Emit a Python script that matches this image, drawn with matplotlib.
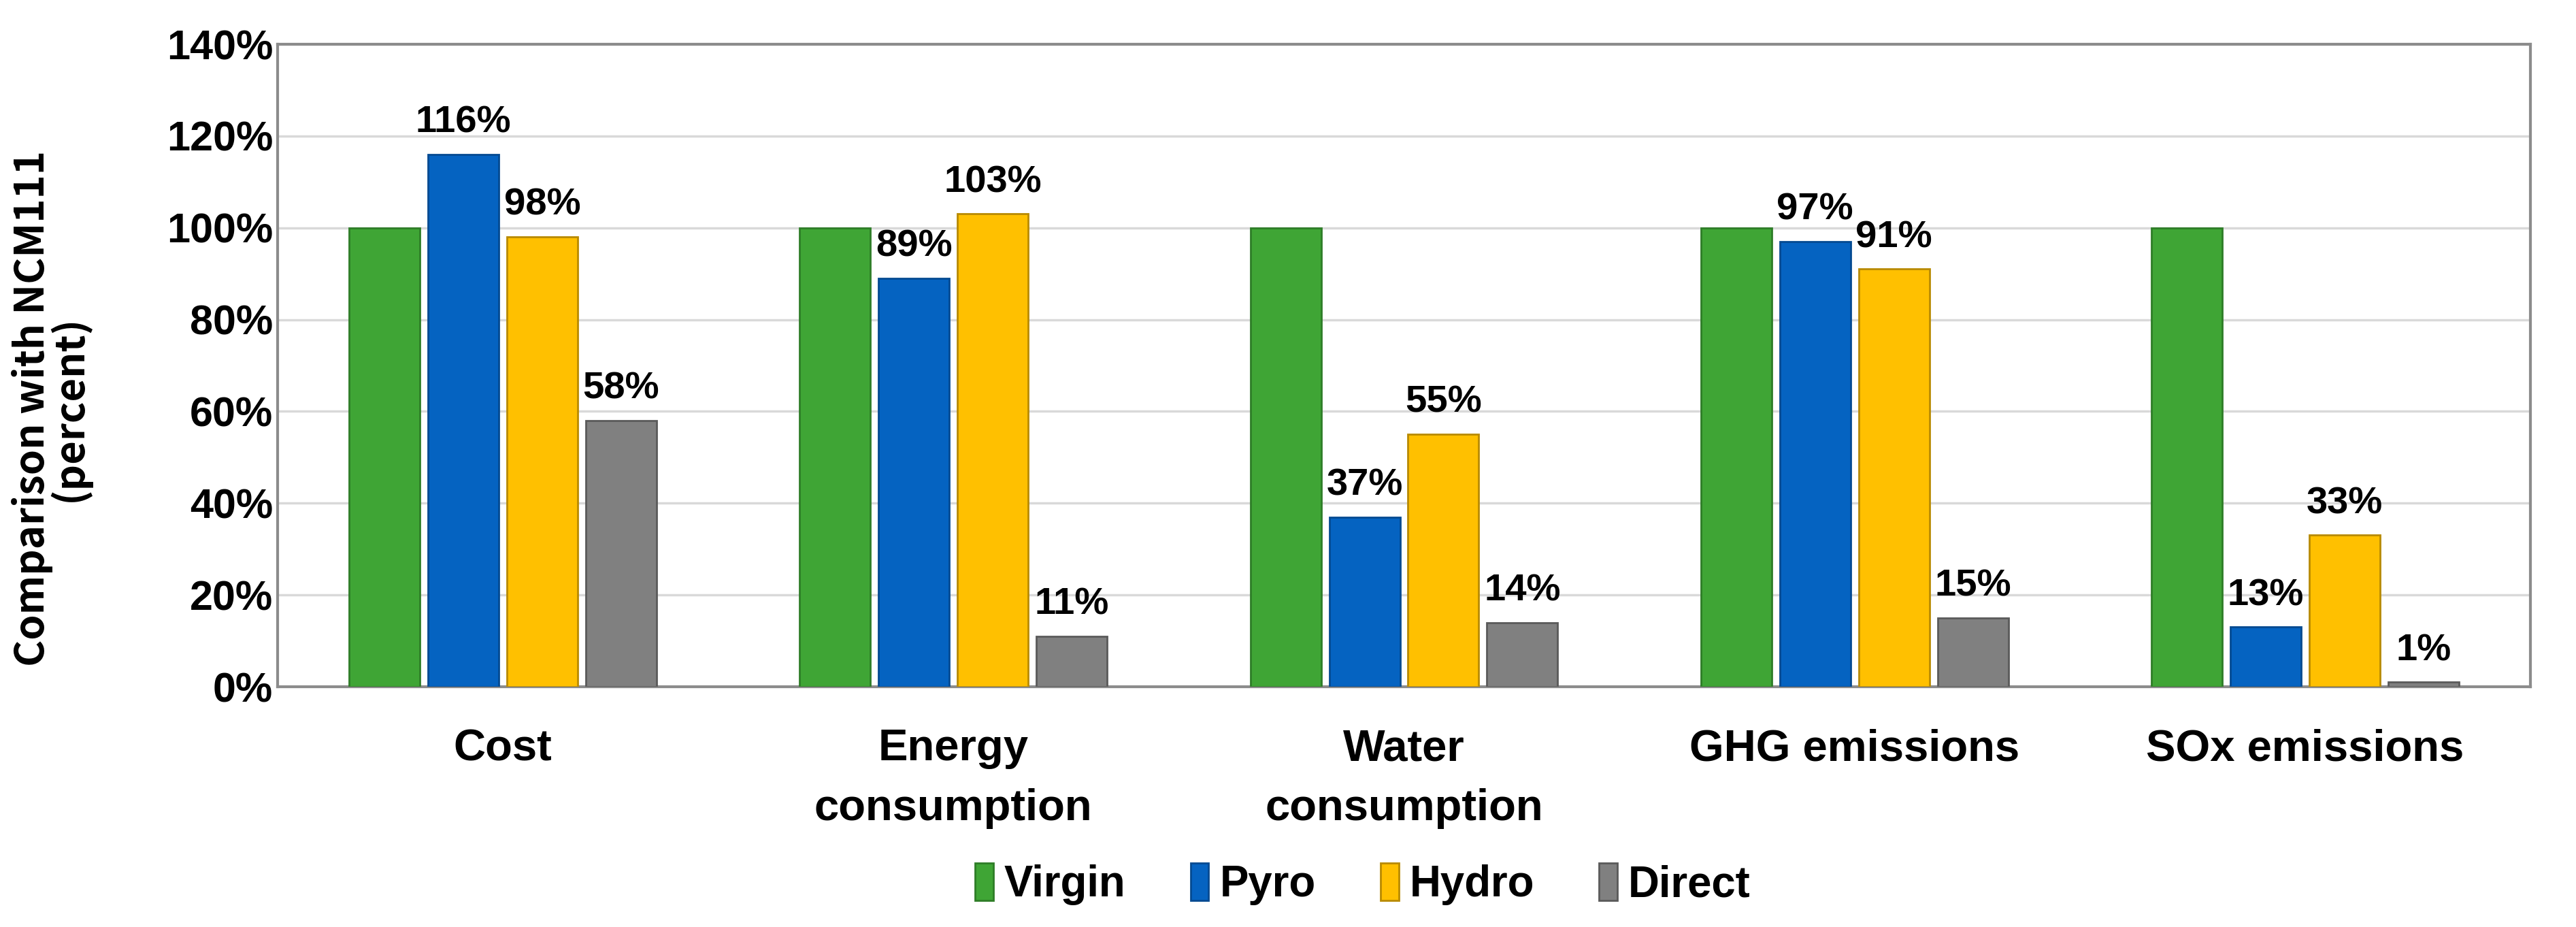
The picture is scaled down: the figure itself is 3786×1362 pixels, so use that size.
import matplotlib
matplotlib.use("Agg")
import matplotlib.pyplot as plt
from matplotlib import font_manager
import numpy as np

categories = ["Cost", "Energy\nconsumption", "Water\nconsumption", "GHG emissions", "SOx emissions"]
series_names = ["Virgin", "Pyro", "Hydro", "Direct"]
virgin = [100, 100, 100, 100, 100]
pyro = [116, 89, 37, 97, 13]
hydro = [98, 103, 55, 91, 33]
direct = [58, 11, 14, 15, 1]
yticks = [0, 20, 40, 60, 80, 100, 120, 140]

colors = ["#3FA535", "#0563C1", "#FFC000", "#808080"]
edges = ["#2E7D27", "#044A91", "#B88A00", "#5A5A5A"]

plt.rcParams['font.family'] = ['Liberation Sans', 'DejaVu Sans']
names = {f.name for f in font_manager.fontManager.ttflist}
narrow = ['Liberation Sans Narrow', 'Liberation Sans'] if 'Liberation Sans Narrow' in names else ['Liberation Sans']
narrow_size = 1.0 if 'Liberation Sans Narrow' in names else 0.88

fig = plt.figure(figsize=(37.86, 13.62), dpi=100)
ax = fig.add_axes([408/3786, 1 - 1009/1362, (3719-408)/3786, (1009-65)/1362])

x = np.arange(len(categories))
width = 0.157
stride = 0.175
data = [virgin, pyro, hydro, direct]
for i, (name, vals) in enumerate(zip(series_names, data)):
    pos = x + (i - 1.5) * stride
    ax.bar(pos, vals, width=width, color=colors[i], edgecolor=edges[i],
           linewidth=2, label=name, zorder=3)
    if i > 0:
        for p, v in zip(pos, vals):
            ax.text(p, v + 3, f"{v}%", ha="center", va="bottom",
                    fontsize=46 * narrow_size, fontweight="bold", family=narrow, zorder=4)

ax.set_xlim(-0.5, len(categories) - 0.5)
ax.set_ylim(0, 140)
ax.set_yticks(yticks)
ax.set_yticklabels([f"{t}%" for t in yticks], fontsize=50 * narrow_size,
                   fontweight="bold", family=narrow)
ax.set_xticks(x)
ax.set_xticklabels(categories, fontsize=47, fontweight="bold", linespacing=1.6)
ax.tick_params(axis="y", length=0, pad=5)
ax.tick_params(axis="x", length=0, pad=44)
ax.grid(axis="y", color="#D9D9D9", linewidth=2.5, zorder=0)
for s in ax.spines.values():
    s.set_color("#8C8C8C")
    s.set_linewidth(3)

fig.text(75/3786, 1 - 600/1362, "Comparison with NCM111\n(percent)", rotation=90,
         ha="center", va="center", fontsize=43, fontweight="bold",
         family=['Noto Sans CJK KR', 'Liberation Sans'], linespacing=0.85)

leg = fig.legend(loc="center", bbox_to_anchor=(0.529, 1 - 1299/1362), ncol=4,
                 frameon=False, handlelength=0.42, handleheight=0.95,
                 handletextpad=0.25, columnspacing=1.5,
                 prop={'weight': 'bold', 'size': 52 * narrow_size, 'family': narrow})

fig.savefig("out.png", dpi=100, facecolor="white")
